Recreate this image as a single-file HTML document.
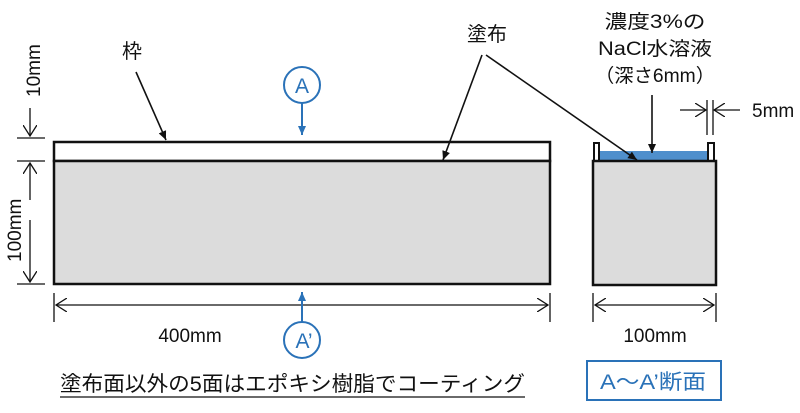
<!DOCTYPE html>
<html><head><meta charset="utf-8"><style>
body{margin:0;background:#fff;width:800px;height:413px;overflow:hidden}
svg{display:block}
text{font-family:"Liberation Sans","Noto Sans CJK JP",sans-serif;fill:#111}
</style></head><body>
<svg width="800" height="413" viewBox="0 0 800 413">
<defs>
<marker id="ah" markerWidth="10" markerHeight="10" refX="9" refY="5" orient="auto" markerUnits="userSpaceOnUse"><path d="M0,1 L9,5 L0,9 Z" fill="#111"/></marker>
<marker id="ab" markerWidth="10" markerHeight="10" refX="9" refY="5" orient="auto" markerUnits="userSpaceOnUse"><path d="M0,1 L9,5 L0,9 Z" fill="#2a72b8"/></marker>
<marker id="op" markerWidth="12" markerHeight="14" refX="11" refY="7" orient="auto" markerUnits="userSpaceOnUse"><path d="M0,0 L11,7 L0,14" fill="none" stroke="#111" stroke-width="1.3"/></marker>
</defs>
<rect x="54" y="142" width="496" height="19" fill="#fff" stroke="#111" stroke-width="2.5"/>
<rect x="54" y="161" width="496" height="123" fill="#dcdcdc" stroke="#111" stroke-width="2.5"/>
<rect x="599" y="151" width="108" height="10" fill="#4f8fcc"/>
<rect x="594" y="143" width="5" height="18" fill="#fff" stroke="#111" stroke-width="2"/>
<rect x="708" y="143" width="6" height="18" fill="#fff" stroke="#111" stroke-width="2"/>
<rect x="593" y="161" width="123" height="124" fill="#dcdcdc" stroke="#111" stroke-width="2.5"/>
<g stroke="#111" stroke-width="1.3" fill="none">
<line x1="17" y1="138" x2="45" y2="138"/>
<line x1="17" y1="161" x2="45" y2="161"/>
<line x1="17" y1="284" x2="45" y2="284"/>
<line x1="30" y1="108" x2="30" y2="136" marker-end="url(#op)"/>
<line x1="30" y1="200" x2="30" y2="163" marker-end="url(#op)"/>
<line x1="30" y1="220" x2="30" y2="282" marker-end="url(#op)"/>
<line x1="54" y1="293" x2="54" y2="322"/>
<line x1="550" y1="293" x2="550" y2="322"/>
<line x1="300" y1="305" x2="56" y2="305" marker-end="url(#op)"/>
<line x1="300" y1="305" x2="548" y2="305" marker-end="url(#op)"/>
<line x1="593" y1="293" x2="593" y2="322"/>
<line x1="716" y1="293" x2="716" y2="322"/>
<line x1="655" y1="305" x2="595" y2="305" marker-end="url(#op)"/>
<line x1="655" y1="305" x2="714" y2="305" marker-end="url(#op)"/>
<line x1="707" y1="100" x2="707" y2="135"/>
<line x1="713" y1="100" x2="713" y2="135"/>
<line x1="680" y1="110" x2="706" y2="110" marker-end="url(#op)"/>
<line x1="740" y1="110" x2="714" y2="110" marker-end="url(#op)"/>
</g>
<text x="0" y="0" font-size="19" transform="translate(40,97) rotate(-90)">10mm</text>
<text x="0" y="0" font-size="19" transform="translate(21,262) rotate(-90)">100mm</text>
<text x="190" y="342" font-size="19" text-anchor="middle">400mm</text>
<text x="655" y="342" font-size="19" text-anchor="middle">100mm</text>
<text x="752" y="117" font-size="19">5mm</text>
<g stroke="#111" stroke-width="1.6">
<line x1="136" y1="72" x2="166" y2="140" marker-end="url(#ah)"/>
<line x1="482" y1="55" x2="443" y2="160" marker-end="url(#ah)"/>
<line x1="486" y1="55" x2="637" y2="160" marker-end="url(#ah)"/>
<line x1="652" y1="95" x2="652" y2="153" marker-end="url(#ah)"/>
</g>
<text x="132" y="58" font-size="20" text-anchor="middle">枠</text>
<text x="487" y="41" font-size="20" text-anchor="middle">塗布</text>
<text x="655" y="28" font-size="19" text-anchor="middle" textLength="101" lengthAdjust="spacingAndGlyphs">濃度3%の</text>
<text x="655" y="55" font-size="19" text-anchor="middle" textLength="114" lengthAdjust="spacingAndGlyphs">NaCl水溶液</text>
<text x="655" y="82" font-size="19" text-anchor="middle" textLength="120" lengthAdjust="spacingAndGlyphs">（深さ6mm）</text>
<g stroke="#2a72b8" stroke-width="2" fill="#fff">
<circle cx="302" cy="85" r="18"/>
<circle cx="302" cy="340" r="18"/>
<line x1="302" y1="103" x2="302" y2="135" marker-end="url(#ab)"/>
<line x1="302" y1="322" x2="302" y2="292" marker-end="url(#ab)"/>
<rect x="587" y="361" width="134" height="39" fill="none"/>
</g>
<text x="302" y="93" font-size="21" text-anchor="middle" style="fill:#2a72b8">A</text>
<text x="304" y="348" font-size="21" text-anchor="middle" style="fill:#2a72b8">A’</text>
<text x="653" y="389" font-size="21" text-anchor="middle" style="fill:#2a72b8" textLength="106" lengthAdjust="spacingAndGlyphs">A～A’断面</text>
<text x="60" y="391" font-size="21" textLength="465" lengthAdjust="spacingAndGlyphs">塗布面以外の5面はエポキシ樹脂でコーティング</text>
<line x1="60" y1="397" x2="525" y2="397" stroke="#111" stroke-width="1.2"/>
</svg>
</body></html>
